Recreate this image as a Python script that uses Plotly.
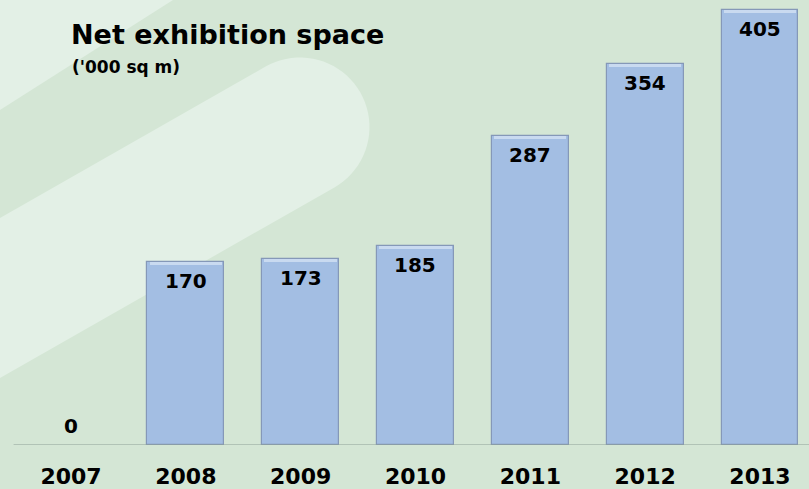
import math
import plotly.graph_objects as go

# Net exhibition space, thousand square metres
years = ["2007", "2008", "2009", "2010", "2011", "2012", "2013"]
space = [0, 170, 173, 185, 287, 354, 405]

W, H = 809, 489
PLOT_BOTTOM = 445          # pixel row of the baseline
BASE_BG = "#d4e6d5"
LIGHT_BG = "#e3f0e6"
BAR_FILL = "#a3bee3"
BAR_EDGE = "#8598b8"
BAR_HILITE = "#c9daf0"
FONT = "DejaVu Sans"

PX_PER_UNIT = 1.075
Y_MAX = PLOT_BOTTOM / PX_PER_UNIT
CAT_STEP = 114.83
X_LEFT = -71 / CAT_STEP
X_RIGHT = (W - 71) / CAT_STEP


def px(x, y):
    """Convert pixel position to paper coordinates."""
    return x / W, (PLOT_BOTTOM - y) / PLOT_BOTTOM


def path_from(points):
    pts = [px(x, y) for x, y in points]
    return "M " + " L ".join(f"{a:.5f},{b:.5f}" for a, b in pts) + " Z"


# decorative swoosh: capsule band running up to the right
theta = math.atan(0.57)
ux, uy = math.cos(theta), -math.sin(theta)   # along the band, up-right on screen
nx, ny = -uy, ux                               # normal, towards the lower edge
cx, cy, r = 300, 127, 69.5
far = 700
band = [(cx - far * ux + r * nx, cy - far * uy + r * ny)]
for k in range(0, 41):
    a = math.pi * k / 40
    band.append((cx + r * (math.cos(a) * nx + math.sin(a) * ux),
                 cy + r * (math.cos(a) * ny + math.sin(a) * uy)))
band.append((cx - far * ux - r * nx, cy - far * uy - r * ny))

corner = [(0, 0), (173, 0), (0, 110)]

shapes = [
    dict(type="path", path=path_from(corner), xref="paper", yref="paper",
         fillcolor=LIGHT_BG, line=dict(width=0), layer="below"),
    dict(type="path", path=path_from(band), xref="paper", yref="paper",
         fillcolor=LIGHT_BG, line=dict(width=0), layer="below"),
    dict(type="line", xref="x", yref="y", x0=-0.5, x1=6.5, y0=0, y1=0,
         line=dict(color="#8e9f97", width=1.2), layer="above"),
]

hilite_h = [min(v, 3 / PX_PER_UNIT) for v in space]
hilite_base = [v - h for v, h in zip(space, hilite_h)]
edge_w = [1.2 if v > 0 else 0 for v in space]

fig = go.Figure()
fig.add_trace(go.Bar(
    x=years, y=space, width=0.67,
    marker=dict(color=BAR_FILL, line=dict(color=BAR_EDGE, width=edge_w)),
    hoverinfo="skip", showlegend=False,
))
fig.add_trace(go.Bar(
    x=years, y=hilite_h, base=hilite_base, width=0.63,
    marker=dict(color=BAR_HILITE, line=dict(width=0)),
    hoverinfo="skip", showlegend=False,
))

annotations = []
for i, v in enumerate(space):
    # category index keeps year-like names from being read as positions
    annotations.append(dict(
        x=i, y=v, xref="x", yref="y", text=str(v), showarrow=False,
        yanchor="middle", yshift=(19 if v == 0 else -19),
        font=dict(family=FONT, size=20, color="#000000", weight="bold"),
    ))

tx, ty = px(69, 35)
annotations.append(dict(
    x=tx, y=ty, xref="paper", yref="paper", xanchor="left", yanchor="middle",
    text="Net exhibition space", showarrow=False,
    font=dict(family=FONT, size=27, color="#000000", weight="bold"),
))
sx, sy = px(70, 67)
annotations.append(dict(
    x=sx, y=sy, xref="paper", yref="paper", xanchor="left", yanchor="middle",
    text="('000 sq m)", showarrow=False,
    font=dict(family=FONT, size=17, color="#000000", weight="bold"),
))

fig.update_layout(
    width=W, height=H,
    margin=dict(l=0, r=0, t=0, b=H - PLOT_BOTTOM, pad=0),
    paper_bgcolor=BASE_BG, plot_bgcolor="rgba(0,0,0,0)",
    barmode="overlay", bargap=0,
    shapes=shapes, annotations=annotations,
    xaxis=dict(type="category", range=[X_LEFT, X_RIGHT], showgrid=False,
               zeroline=False, showline=False, ticks="",
               ticklabelstandoff=16,
               tickfont=dict(family=FONT, size=22, color="#000000", weight="bold"),
               fixedrange=True),
    yaxis=dict(range=[0, Y_MAX], visible=False, fixedrange=True),
)

fig.write_html("out.html", config=dict(displayModeBar=False))
